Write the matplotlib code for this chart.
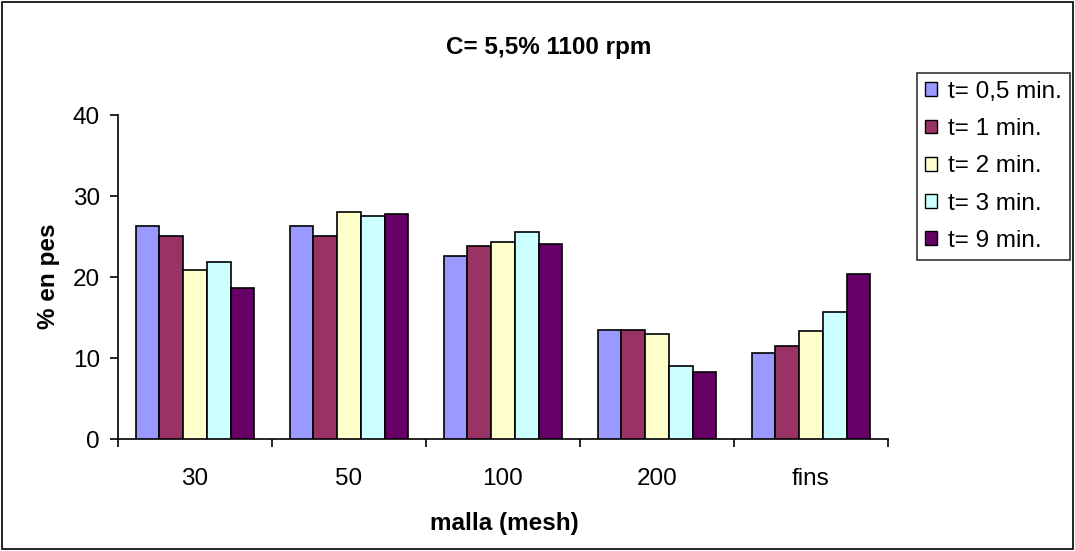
import matplotlib
matplotlib.use("Agg")
import matplotlib.pyplot as plt
import numpy as np
from matplotlib.patches import Rectangle

plt.rcParams['font.family'] = ['Liberation Sans', 'DejaVu Sans']

categories = ["30", "50", "100", "200", "fins"]
series_labels = ["t= 0,5 min.", "t= 1 min.", "t= 2 min.", "t= 3 min.", "t= 9 min."]
t_05 = [26.3, 26.3, 22.6, 13.5, 10.6]
t_1 = [25.1, 25.1, 23.9, 13.5, 11.5]
t_2 = [20.9, 28.0, 24.3, 13.0, 13.3]
t_3 = [21.9, 27.5, 25.6, 9.1, 15.7]
t_9 = [18.7, 27.8, 24.1, 8.3, 20.4]
series = [t_05, t_1, t_2, t_3, t_9]
colors = ["#9999FF", "#993366", "#FFFFCC", "#CCFFFF", "#660066"]

FS = 17.5
W, H = 1075, 551

fig = plt.figure(figsize=(W / 100, H / 100), dpi=100)
ax = fig.add_axes([118 / W, 1 - 439.3 / H, (888 - 118) / W, (439.3 - 115) / H])

n = len(series)
width = 1.0 / (n + 1.5)
x = np.arange(len(categories))
for i, (vals, col, lab) in enumerate(zip(series, colors, series_labels)):
    offs = (i - (n - 1) / 2) * width
    ax.bar(x + offs, vals, width=width, color=col, edgecolor="black",
           linewidth=1.2, label=lab, zorder=3)

ax.set_xlim(-0.5, len(categories) - 0.5)
ax.set_ylim(0, 40)
ax.set_yticks([0, 10, 20, 30, 40])
ax.set_xticks(x)
ax.set_xticklabels(categories, fontsize=FS)
ax.set_xticks(np.arange(len(categories) + 1) - 0.5, minor=True)
ax.tick_params(axis='x', which='major', length=0, pad=21)
ax.tick_params(axis='x', which='minor', length=6, width=1.2, direction='out')
ax.tick_params(axis='y', labelsize=FS, length=6, width=1.2, direction='out', pad=7)
for s in ['top', 'right']:
    ax.spines[s].set_visible(False)
for s in ['left', 'bottom']:
    ax.spines[s].set_linewidth(1.2)

fig.text(549 / W, 1 - 54 / H, "C= 5,5% 1100 rpm", ha='center', va='baseline',
         fontsize=FS, fontweight='bold')
fig.text(504 / W, 1 - 530 / H, "malla (mesh)", ha='center', va='baseline',
         fontsize=FS, fontweight='bold')
fig.text(48 / W, 1 - 276 / H, "% en pes", ha='center', va='center',
         fontsize=FS, fontweight='bold', rotation=90)

leg = fig.legend(loc='upper left', bbox_to_anchor=(917 / W, 1 - 73 / H),
                 borderaxespad=0, fontsize=FS, handlelength=0.5, handleheight=0.5,
                 handletextpad=0.45, labelspacing=0.63, borderpad=0.32,
                 fancybox=False, frameon=True)
leg.get_frame().set_edgecolor("black")
leg.get_frame().set_linewidth(1.2)
for h in leg.legend_handles:
    h.set_linewidth(1.0)

fig.patches.append(Rectangle((0.002, 0.003), 0.996, 0.994, transform=fig.transFigure,
                             fill=False, edgecolor="black", linewidth=1.2))

fig.savefig("out.png", dpi=100)
